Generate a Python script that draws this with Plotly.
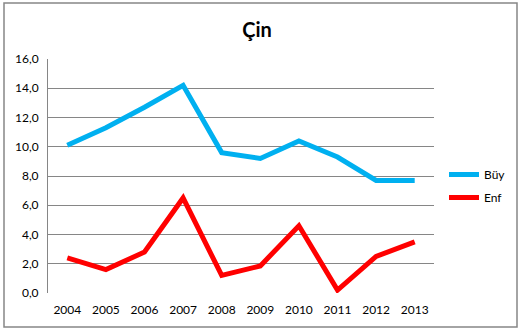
import plotly.graph_objects as go

years = ["2004", "2005", "2006", "2007", "2008", "2009", "2010", "2011", "2012", "2013"]
buy = [10.1, 11.3, 12.7, 14.2, 9.6, 9.2, 10.4, 9.3, 7.7, 7.7]
enf = [2.4, 1.6, 2.8, 6.5, 1.2, 1.85, 4.6, 0.2, 2.5, 3.5]
y_ticks = [0, 2, 4, 6, 8, 10, 12, 14, 16]

FONT = "Lato"

fig = go.Figure()
fig.add_trace(go.Scatter(x=years, y=buy, name="Büy", mode="lines",
                         legendgroup="g1",
                         line=dict(color="#00B0F0", width=5)))
fig.add_trace(go.Scatter(x=years, y=enf, name="Enf", mode="lines",
                         legendgroup="g2",
                         line=dict(color="#FF0000", width=5)))

L, R, T, B = 48, 94, 59, 42
W, H = 528, 335
pw, ph = W - L - R, H - T - B

def px(x):
    return (x - L) / pw

def py(y):
    return (H - B - y) / ph

fig.update_layout(
    width=W, height=H,
    margin=dict(l=L, r=R, t=T, b=B),
    paper_bgcolor="white", plot_bgcolor="white",
    separators=",.",
    font=dict(family=FONT, size=12, color="black"),
    title=dict(text="<b>Çin</b>", x=(257) / W, xanchor="center",
               y=1 - 30 / H, yanchor="middle",
               font=dict(family=FONT, size=20, color="black")),
    showlegend=True,
    legend=dict(x=px(444), y=py(186), xanchor="left", yanchor="middle",
                font=dict(family=FONT, size=12), tracegroupgap=4,
                itemwidth=30, bgcolor="rgba(0,0,0,0)"),
    xaxis=dict(type="category", range=[-0.5, 9.5], showgrid=False,
               showline=False, ticks="", zeroline=False,
               ticklabelstandoff=8, tickfont=dict(size=12)),
    yaxis=dict(range=[0, 16], tickvals=y_ticks, tickformat=".1f",
               showgrid=True, gridcolor="#868686", gridwidth=1,
               showline=True, linecolor="#868686", linewidth=1,
               zeroline=False, ticks="", ticklabelstandoff=6,
               tickfont=dict(size=12)),
    shapes=[dict(type="rect", xref="paper", yref="paper",
                 x0=px(4), x1=px(517), y0=py(327), y1=py(3),
                 line=dict(color="#868686", width=1.5), layer="below")],
)

fig.write_html("out.html", config={"displayModeBar": False},
               post_script="document.body.style.margin='0';")
